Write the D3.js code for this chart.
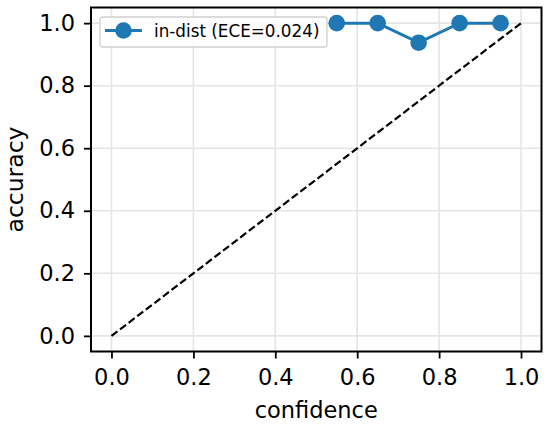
<!DOCTYPE html>
<html>
<head>
<meta charset="utf-8">
<script src="https://cdn.jsdelivr.net/npm/d3@7"></script>
<style>
  body { margin: 0; background: #fff; }
  text { font-family: "DejaVu Sans", sans-serif; fill: #000; }
</style>
</head>
<body>
<script>
// calibration bins
var confidence = [0.55, 0.65, 0.75, 0.85, 0.95];
var accuracy = [1.0, 1.0, 0.9375, 1.0, 1.0];
var ticks = [0, 0.2, 0.4, 0.6, 0.8, 1.0];
var diagonal = [[0, 0], [1, 1]];
var legendLabel = "in-dist (ECE=0.024)";

var width = 550, height = 427;
// plot area edges (note: "top" is a reserved window property)
var plotLeft = 91, plotRight = 541.5, plotTop = 7.5, plotBottom = 351.5;
var blue = "#1f77b4";

var svg = d3.select("body")
    .append("svg")
    .attr("width", width)
    .attr("height", height);

var x = d3.scaleLinear().domain([-0.05, 1.05]).range([plotLeft, plotRight]);
var y = d3.scaleLinear().domain([-0.05, 1.05]).range([plotBottom, plotTop]);

// grid lines
svg.selectAll(".vgrid")
    .data(ticks)
    .enter()
    .append("line")
    .attr("x1", d => x(d)).attr("x2", d => x(d))
    .attr("y1", plotTop).attr("y2", plotBottom)
    .attr("stroke", "#e5e5e5")
    .attr("stroke-width", 1.6);

svg.selectAll(".hgrid")
    .data(ticks)
    .enter()
    .append("line")
    .attr("y1", d => y(d)).attr("y2", d => y(d))
    .attr("x1", plotLeft).attr("x2", plotRight)
    .attr("stroke", "#e5e5e5")
    .attr("stroke-width", 1.6);

// perfect calibration line
svg.append("path")
    .datum(diagonal)
    .attr("d", d3.line().x(d => x(d[0])).y(d => y(d[1])))
    .attr("fill", "none")
    .attr("stroke", "#000")
    .attr("stroke-width", 2.2)
    .attr("stroke-dasharray", "7.5,3.3");

// reliability curve
var pts = confidence.map((c, i) => [c, accuracy[i]]);
svg.append("path")
    .datum(pts)
    .attr("d", d3.line().x(d => x(d[0])).y(d => y(d[1])))
    .attr("fill", "none")
    .attr("stroke", blue)
    .attr("stroke-width", 3);

svg.selectAll(".pt")
    .data(pts)
    .enter()
    .append("circle")
    .attr("cx", d => x(d[0]))
    .attr("cy", d => y(d[1]))
    .attr("r", 8.3)
    .attr("fill", blue);

// axes
var xAxis = d3.axisBottom(x).tickValues(ticks).tickFormat(d3.format(".1f"))
    .tickSize(7).tickPadding(11);
var yAxis = d3.axisLeft(y).tickValues(ticks).tickFormat(d3.format(".1f"))
    .tickSize(7).tickPadding(9);

var gx = svg.append("g").attr("transform", "translate(0," + plotBottom + ")").call(xAxis);
var gy = svg.append("g").attr("transform", "translate(" + plotLeft + ",0)").call(yAxis);
[gx, gy].forEach(function(g) {
    g.select(".domain").remove();
    g.selectAll(".tick line").attr("stroke", "#000").attr("stroke-width", 1.8);
    g.selectAll(".tick text")
        .style("font-family", "DejaVu Sans")
        .style("font-size", "22.5px");
});

// frame
svg.append("rect")
    .attr("x", plotLeft).attr("y", plotTop)
    .attr("width", plotRight - plotLeft).attr("height", plotBottom - plotTop)
    .attr("fill", "none")
    .attr("stroke", "#000")
    .attr("stroke-width", 2);

// axis labels
svg.append("text")
    .attr("x", (plotLeft + plotRight) / 2)
    .attr("y", 418)
    .attr("text-anchor", "middle")
    .style("font-size", "22.5px")
    .text("confidence");

svg.append("text")
    .attr("transform", "translate(23," + ((plotTop + plotBottom) / 2) + ") rotate(-90)")
    .attr("text-anchor", "middle")
    .style("font-size", "23.5px")
    .text("accuracy");

// legend
var lg = svg.append("g");
lg.append("rect")
    .attr("x", 100).attr("y", 17)
    .attr("width", 227).attr("height", 30)
    .attr("rx", 3)
    .attr("fill", "#fff")
    .attr("fill-opacity", 0.8)
    .attr("stroke", "#d0d0d0")
    .attr("stroke-width", 1.3);
lg.append("line")
    .attr("x1", 105).attr("x2", 142)
    .attr("y1", 30.5).attr("y2", 30.5)
    .attr("stroke", blue)
    .attr("stroke-width", 3);
lg.append("circle")
    .attr("cx", 123.5).attr("cy", 30.5)
    .attr("r", 8.3)
    .attr("fill", blue);
lg.append("text")
    .attr("x", 154)
    .attr("y", 36.5)
    .style("font-size", "16.8px")
    .text(legendLabel);
</script>
</body>
</html>
